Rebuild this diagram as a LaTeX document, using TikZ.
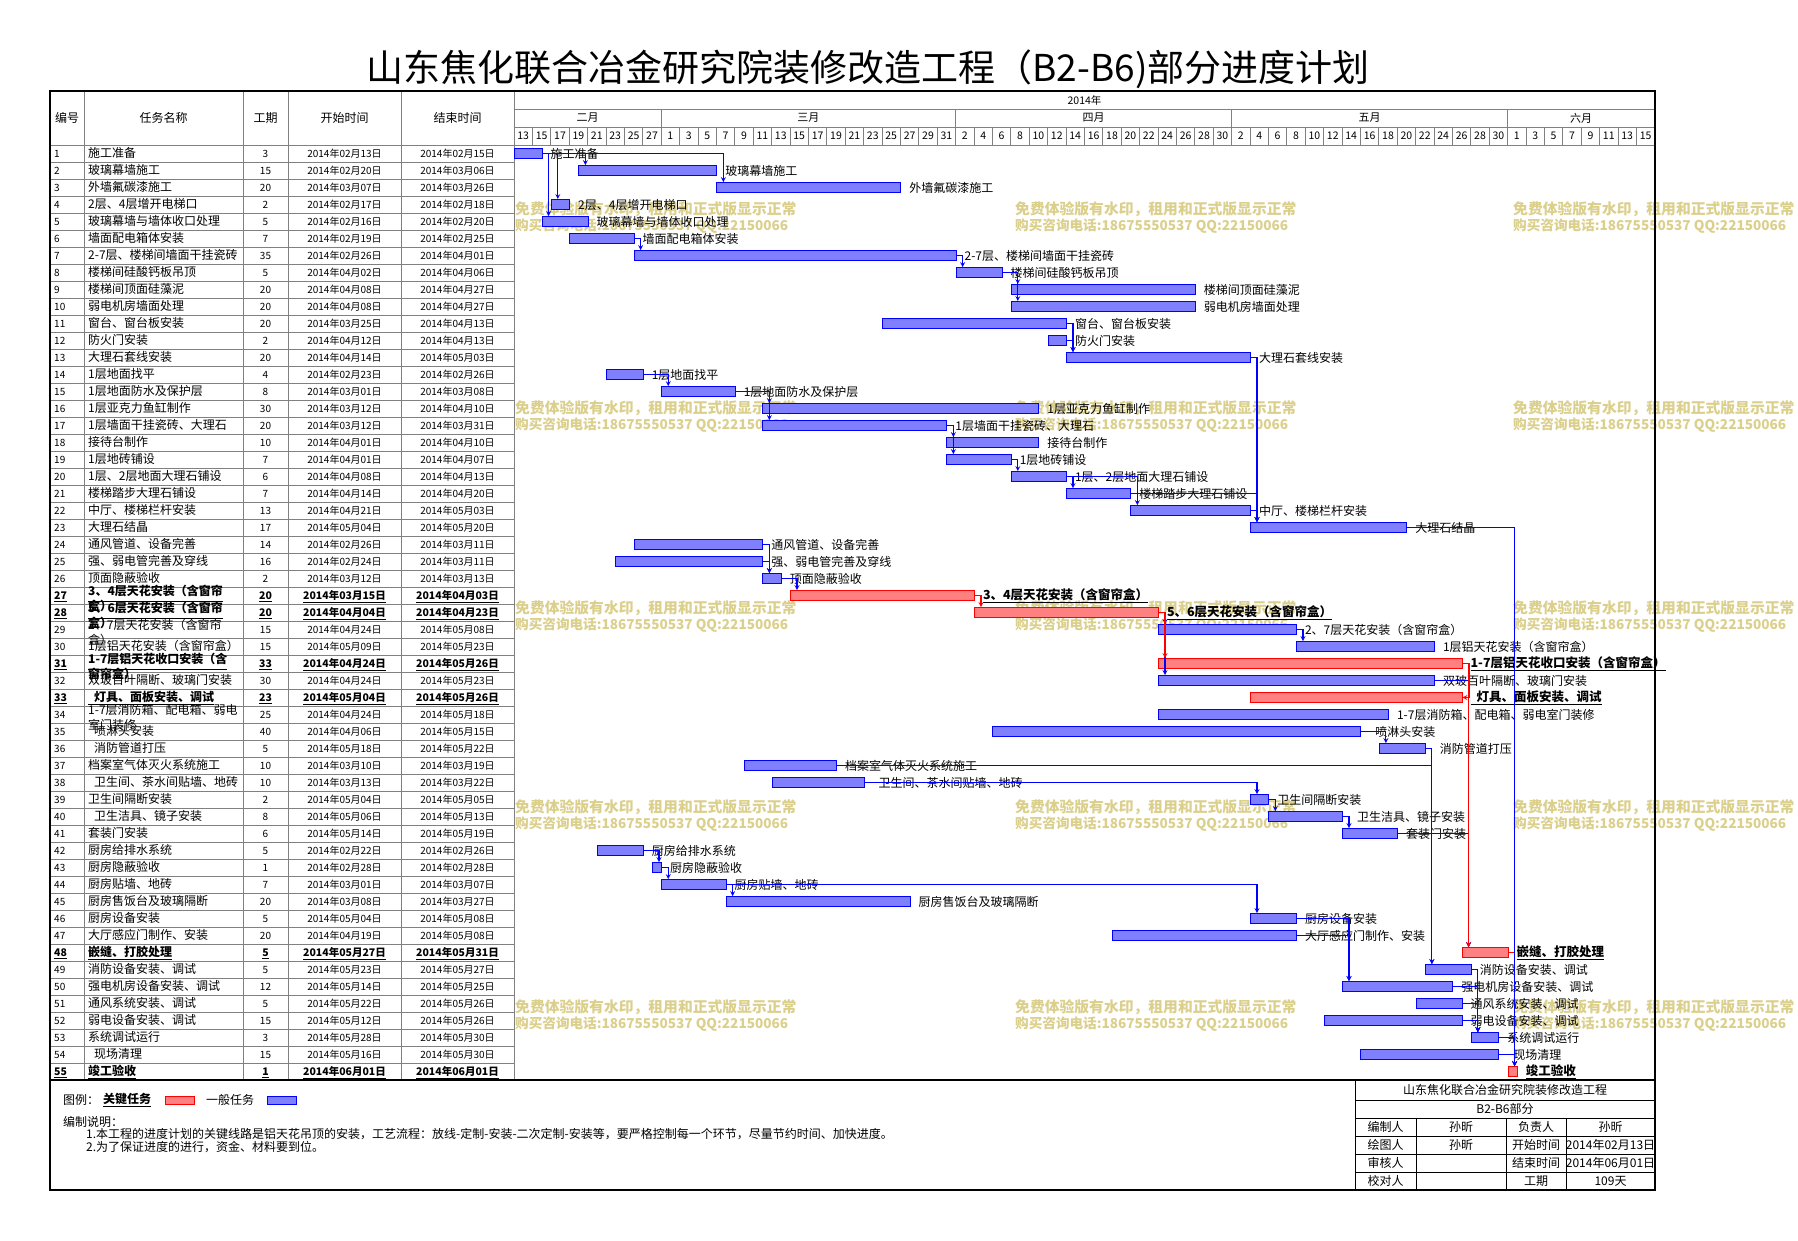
\documentclass[tikz,border=0pt]{standalone}
\usepackage{fontspec}
\setmainfont{Noto Sans CJK SC}
\usetikzlibrary{arrows, calc, positioning}

\definecolor{gridgray}{RGB}{128,128,128}
\definecolor{wmgold}{RGB}{219,207,140}

\newif\ifnamecol
\newcommand\wrapped[2]{\ifnamecol\rlap{\smash{\raisebox{-11pt}{#2}}}\raisebox{4pt}{#1}\else#1#2\fi}
\newcommand\emphblue[1]{#1}
\newcommand\emphred[1]{\underline{#1}}
\newcommand\ymd[4]{2014年#1#2月#3#4日}
\newcommand\cellfontblue{\fontsize{10}{12}\selectfont}
\newcommand\cellfontred{\bfseries\fontsize{10.5}{12}\selectfont}
\newcommand\namefontblue{\fontsize{12}{14}\selectfont}
\newcommand\namefontred{\bfseries\fontsize{12}{14}\selectfont}
\newcommand\labfontblue{\fontsize{12}{14}\selectfont}
\newcommand\labfontred{\bfseries\fontsize{12.5}{14}\selectfont}

\begin{document}
\begin{tikzpicture}[x=1pt, y=-1pt,
	gridline/.style={draw=gridgray, line width=0.8pt},
	bar/.style={draw=#1, fill=#1!50!white, line width=0.8pt, inner sep=0pt, minimum height=10pt, anchor=west},
	cell/.style={inner sep=0pt, font=\csname cellfont#1\endcsname},
	namecell/.style={inner sep=0pt, anchor=base west, font=\csname namefont#1\endcsname},
	lab/.style={inner sep=0pt, anchor=west, font=\csname labfont#1\endcsname},
	dep/.style={draw=#1, line width=1.2pt, -stealth},
	dep/.default=blue,
	head/.style={inner sep=0pt, font=\fontsize{12}{13}\selectfont},
	daycell/.style={inner sep=0pt, font=\fontsize{10.5}{12}\selectfont},
	watermark/.style={inner sep=0pt, anchor=west, text=wmgold, font=\bfseries\fontsize{14.8}{15}\selectfont},
	note/.style={inner sep=0pt, anchor=west, font=\fontsize{12}{13}\selectfont}]
\useasboundingbox (0,0) rectangle (1798,1240);

% watermark of the trial version
\foreach \x in {515,1015,1513}
	\foreach \y [count=\i] in {209,408.5,608,807.5,1007}{
		\node[watermark] (wm\x-\i) at (\x,\y) {免费体验版有水印，租用和正式版显示正常};
		\node[watermark, font=\bfseries\fontsize{13.6}{15}\selectfont] (tel\x-\i) at (\x,\y+17) {购买咨询电话:18675550537 QQ:22150066};
	}

\node[inner sep=0pt, font=\fontsize{37}{40}\selectfont] (title) at (868,69) {山东焦化联合冶金研究院装修改造工程（B2-B6)部分进度计划};

% table grid
\foreach \r in {0,...,55}
	\draw[gridline] (50,{145+17*\r}) -- (514,{145+17*\r});
\foreach \x in {84,243,288,401,514}
	\draw[gridline] (\x,91) -- (\x,1080);
\foreach \y in {109,127,145}
	\draw[gridline] (514,\y) -- (1655,\y);
\foreach \k in {1,...,61}
	\draw[gridline] ({514+\k*18.4},127) -- ({514+\k*18.4},145);
\foreach \x in {661.2,955.6,1231.6,1507.6}
	\draw[gridline] (\x,109) -- (\x,127);

% header
\node[head] (hid) at (67,118) {编号};
\node[head] (hname) at (163.5,118) {任务名称};
\node[head] (hdays) at (265.5,118) {工期};
\node[head] (hstart) at (344.5,118) {开始时间};
\node[head] (hend) at (457.5,118) {结束时间};
\node[daycell] (year) at (1084.5,100) {2014年};
\foreach \m/\x [count=\i] in {二月/587.6,三月/808.4,四月/1093.6,五月/1369.6,六月/1581.2}
	\node[head, font=\fontsize{11}{12}\selectfont] (month\i) at (\x,118) {\m};
\foreach \first/\last/\pos in {13/27/0,1/31/8,2/30/24,2/30/39,1/15/54}{
	\pgfmathtruncatemacro\second{\first+2}
	\foreach \dd [count=\k from \pos] in {\first,\second,...,\last}
		\node[daycell] (day\k) at ({514+(\k+0.5)*18.4},136) {\dd};
}

% tasks: number / first day / days / colour / name / start / end
\foreach \num/\st/\du/\col/\task/\sd/\ed in {
	1/0/3/blue/施工准备/0213/0215,
	2/7/15/blue/玻璃幕墙施工/0220/0306,
	3/22/20/blue/外墙氟碳漆施工/0307/0326,
	4/4/2/blue/2层、4层增开电梯口/0217/0218,
	5/3/5/blue/玻璃幕墙与墙体收口处理/0216/0220,
	6/6/7/blue/墙面配电箱体安装/0219/0225,
	7/13/35/blue/2-7层、楼梯间墙面干挂瓷砖/0226/0401,
	8/48/5/blue/楼梯间硅酸钙板吊顶/0402/0406,
	9/54/20/blue/楼梯间顶面硅藻泥/0408/0427,
	10/54/20/blue/弱电机房墙面处理/0408/0427,
	11/40/20/blue/窗台、窗台板安装/0325/0413,
	12/58/2/blue/防火门安装/0412/0413,
	13/60/20/blue/大理石套线安装/0414/0503,
	14/10/4/blue/1层地面找平/0223/0226,
	15/16/8/blue/1层地面防水及保护层/0301/0308,
	16/27/30/blue/1层亚克力鱼缸制作/0312/0410,
	17/27/20/blue/1层墙面干挂瓷砖、大理石/0312/0331,
	18/47/10/blue/接待台制作/0401/0410,
	19/47/7/blue/1层地砖铺设/0401/0407,
	20/54/6/blue/1层、2层地面大理石铺设/0408/0413,
	21/60/7/blue/楼梯踏步大理石铺设/0414/0420,
	22/67/13/blue/中厅、楼梯栏杆安装/0421/0503,
	23/80/17/blue/大理石结晶/0504/0520,
	24/13/14/blue/通风管道、设备完善/0226/0311,
	25/11/16/blue/强、弱电管完善及穿线/0224/0311,
	26/27/2/blue/顶面隐蔽验收/0312/0313,
	27/30/20/red/\wrapped{3、4层天花安装（含窗帘}{盒）}/0315/0403,
	28/50/20/red/\wrapped{5、6层天花安装（含窗帘}{盒）}/0404/0423,
	29/70/15/blue/\wrapped{2、7层天花安装（含窗帘}{盒）}/0424/0508,
	30/85/15/blue/1层铝天花安装（含窗帘盒）/0509/0523,
	31/70/33/red/\wrapped{1-7层铝天花收口安装（含}{窗帘盒）}/0424/0526,
	32/70/30/blue/双玻百叶隔断、玻璃门安装/0424/0523,
	33/80/23/red/\hspace*{6pt}灯具、面板安装、调试/0504/0526,
	34/70/25/blue/\wrapped{1-7层消防箱、配电箱、弱电}{室门装修}/0424/0518,
	35/52/40/blue/\hspace*{6pt}喷淋头安装/0406/0515,
	36/94/5/blue/\hspace*{6pt}消防管道打压/0518/0522,
	37/25/10/blue/档案室气体灭火系统施工/0310/0319,
	38/28/10/blue/\hspace*{6pt}卫生间、茶水间贴墙、地砖/0313/0322,
	39/80/2/blue/卫生间隔断安装/0504/0505,
	40/82/8/blue/\hspace*{6pt}卫生洁具、镜子安装/0506/0513,
	41/90/6/blue/套装门安装/0514/0519,
	42/9/5/blue/厨房给排水系统/0222/0226,
	43/15/1/blue/厨房隐蔽验收/0228/0228,
	44/16/7/blue/厨房贴墙、地砖/0301/0307,
	45/23/20/blue/厨房售饭台及玻璃隔断/0308/0327,
	46/80/5/blue/厨房设备安装/0504/0508,
	47/65/20/blue/大厅感应门制作、安装/0419/0508,
	48/103/5/red/嵌缝、打胶处理/0527/0531,
	49/99/5/blue/消防设备安装、调试/0523/0527,
	50/90/12/blue/强电机房设备安装、调试/0514/0525,
	51/98/5/blue/通风系统安装、调试/0522/0526,
	52/88/15/blue/弱电设备安装、调试/0512/0526,
	53/104/3/blue/系统调试运行/0528/0530,
	54/92/15/blue/\hspace*{6pt}现场清理/0516/0530,
	55/108/1/red/竣工验收/0601/0601}{
	\pgfmathsetmacro\yc{136.5+17*\num}
	\node[cell=\col, anchor=base west] (id\num) at (54,\yc+4) {\csname emph\col\endcsname{\num}};
	\node[namecell=\col] (task\num) at (88,\yc+4) {\namecoltrue\csname emph\col\endcsname{\task}};
	\node[cell=\col, anchor=base] (days\num) at (265.5,\yc+4) {\csname emph\col\endcsname{\du}};
	\node[cell=\col, anchor=base] (start\num) at (344.5,\yc+4) {\csname emph\col\endcsname{\expandafter\ymd\sd}};
	\node[cell=\col, anchor=base] (end\num) at (457.5,\yc+4) {\csname emph\col\endcsname{\expandafter\ymd\ed}};
	\node[bar=\col, minimum width={\du*9.2pt}] (bar\num) at ({514+\st*9.2},\yc) {};
	\node[lab=\col, right=8pt of bar\num] (lab\num) {\csname emph\col\endcsname{\task}};
}

% links
\draw[dep=red] (bar48.east) -| ($(bar55.north west)+(7,0)$);
\foreach \p/\q in {1/2,1/3,1/4,1/5,6/7,7/8,8/9,8/10,11/13,12/13,14/15,15/16,15/17,17/18,17/19,19/20,20/21,20/22,13/23,21/23,22/23,24/26,25/26,26/27,28/32,28/29,29/30,32/48,41/48,35/36,36/49,37/49,38/39,39/40,40/41,42/43,43/44,44/45,44/46,46/50,47/50,49/53,50/53,51/53,52/53,23/55,53/55,54/55}
	\draw[dep] (bar\p.east) -| ($(bar\q.north west)+(7,0)$);
\foreach \p/\q in {27/28,28/31,31/48}
	\draw[dep=red] (bar\p.east) -| ($(bar\q.north west)+(7,0)$);
\draw[dep=red] (bar31.east) -- ++(7,0) |- (bar33.east);

% frame
\draw[line width=1.6pt] (50,1080) -- (1655,1080);
\draw[line width=2.5pt] (50,91) rectangle (1655,1190);

% legend and notes
\node[note] (legend) at (63,1100) {图例：};
\node[note, font=\bfseries\fontsize{12}{13}\selectfont] (keytext) at (103,1100) {\underline{关键任务}};
\node[bar=red, minimum width=29.5pt, minimum height=8pt] (keybox) at (164.6,1100) {};
\node[note] (gentext) at (206,1100) {一般任务};
\node[bar=blue, minimum width=28.5pt, minimum height=8pt] (genbox) at (267,1100) {};
\node[note] (notes) at (63,1122) {编制说明：};
\node[note] (note1) at (86,1134.5) {1.本工程的进度计划的关键线路是铝天花吊顶的安装，工艺流程：放线-定制-安装-二次定制-安装等，要严格控制每一个环节，尽量节约时间、加快进度。};
\node[note] (note2) at (86,1147) {2.为了保证进度的进行，资金、材料要到位。};

% title block
\draw[line width=0.9pt] (1355,1080) -- (1355,1190);
\foreach \y in {1100,1118,1136,1154,1172}
	\draw[line width=0.9pt] (1355,\y) -- (1655,\y);
\foreach \x in {1416,1506,1566}
	\draw[line width=0.9pt] (\x,1118) -- (\x,1190);
\node[head] (project) at (1505,1090) {山东焦化联合冶金研究院装修改造工程};
\node[head] (part) at (1505,1109) {B2-B6部分};
\foreach \ra/\rb/\rc/\rd [count=\i] in {编制人/孙昕/负责人/孙昕,绘图人/孙昕/开始时间/2014年02月13日,审核人//结束时间/2014年06月01日,校对人//工期/109天}{
	\pgfmathsetmacro\yy{1109+18*\i}
	\node[head] (role\i) at (1385.5,\yy) {\ra};
	\node[head] (who\i) at (1461,\yy) {\rb};
	\node[head] (item\i) at (1536,\yy) {\rc};
	\node[head] (value\i) at (1610.5,\yy) {\rd};
}
\end{tikzpicture}
\end{document}
